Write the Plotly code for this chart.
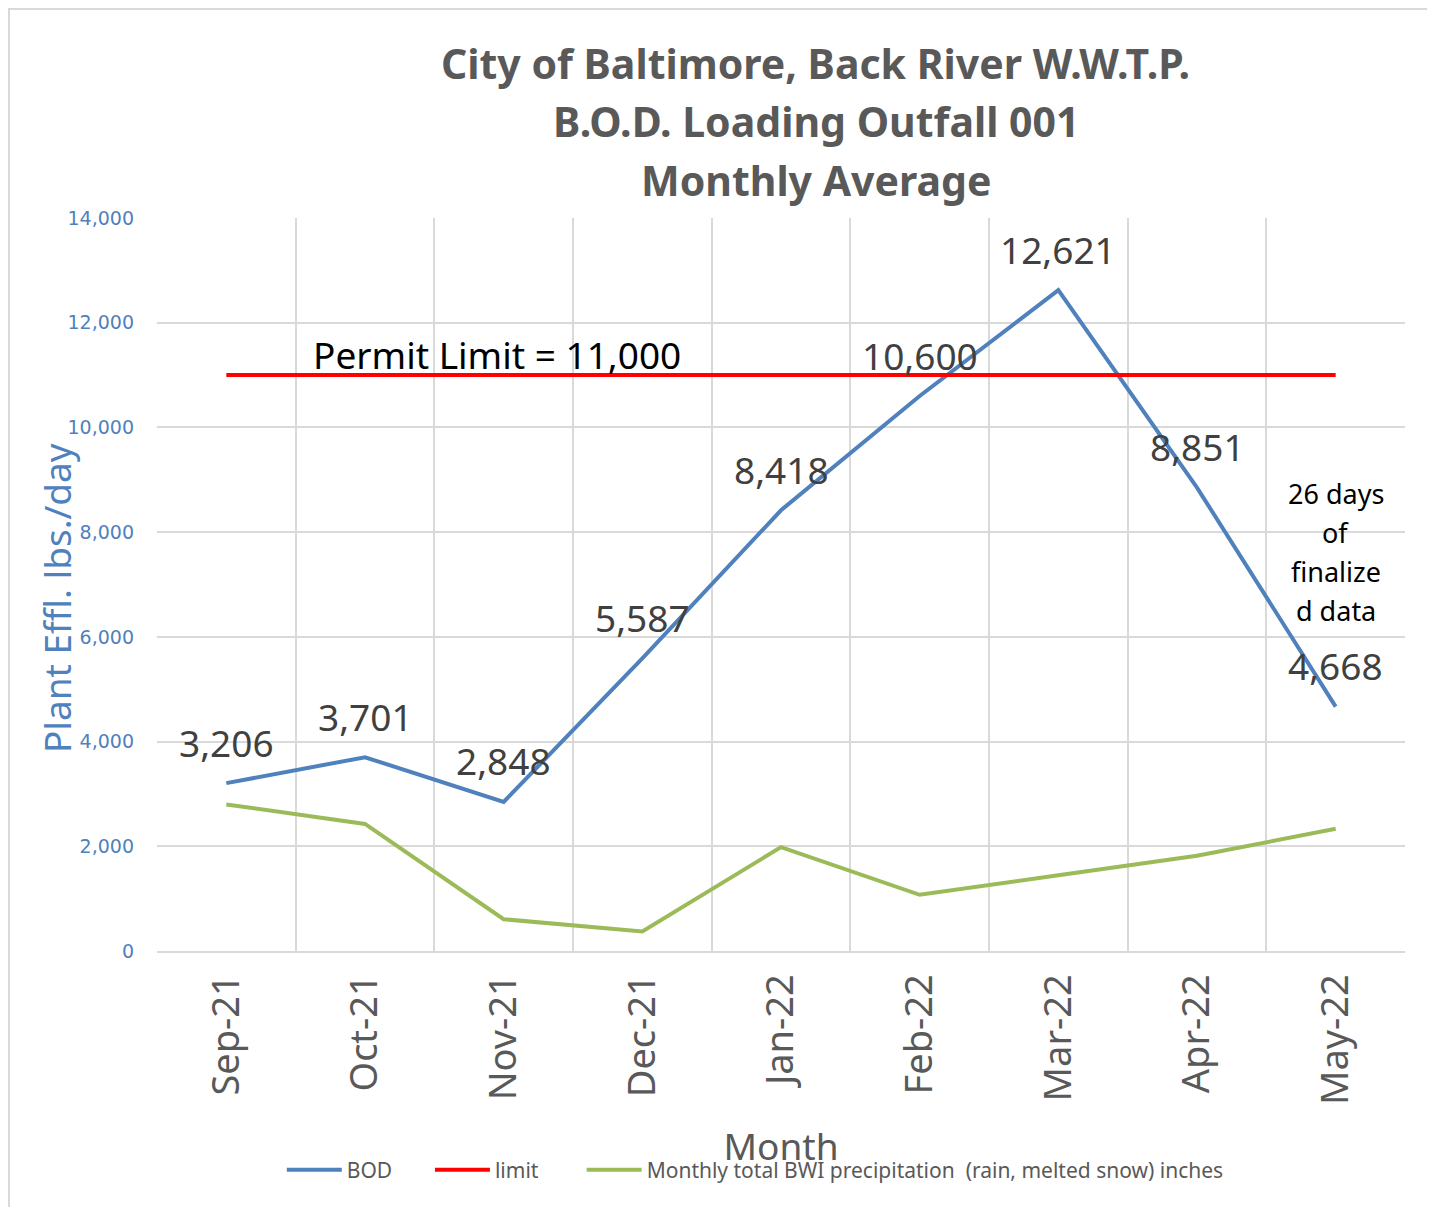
import plotly.graph_objects as go

months = ["Sep-21", "Oct-21", "Nov-21", "Dec-21", "Jan-22", "Feb-22", "Mar-22", "Apr-22", "May-22"]
bod = [3206, 3701, 2848, 5587, 8418, 10600, 12621, 8851, 4668]
limit = [11000] * len(months)
precip = [6.0, 5.2, 1.3, 0.8, 4.25, 2.3, 3.1, 3.9, 5.0]

title_lines = ["City of Baltimore, Back River W.W.T.P.", "B.O.D. Loading Outfall 001", "Monthly Average"]
note_lines = ["26 days", "of", "finalize", "d data"]

BLUE = "#4F81BD"
GREEN = "#9BBB59"
GRAY = "#595959"
GRID = "#D9D9D9"
FONT = "Noto Sans"
NBSP = "\u00a0"  # used to widen the gap between legend entries

x = list(range(len(months)))

fig = go.Figure()
fig.add_trace(go.Scatter(x=x, y=bod, name="BOD" + NBSP * 6, mode="lines",
                         line=dict(color=BLUE, width=4)))
fig.add_trace(go.Scatter(x=x, y=limit, name="limit" + NBSP * 7, mode="lines",
                         line=dict(color="#FF0000", width=4)))
fig.add_trace(go.Scatter(x=x, y=precip, name="Monthly total BWI precipitation  (rain, melted snow) inches",
                         mode="lines", line=dict(color=GREEN, width=4), yaxis="y2"))

# value labels above the BOD points
for i, v in enumerate(bod):
    fig.add_annotation(x=i, y=v, text=f"{v:,}", showarrow=False, yshift=41,
                       font=dict(family=FONT, size=37, color="#404040"))

fig.add_annotation(x=1.95, y=11400, text="Permit Limit = 11,000", showarrow=False,
                   font=dict(family=FONT, size=37, color="black"))

# note next to the last month, one line at a time
for k, line in enumerate(note_lines):
    fig.add_annotation(x=8, y=7620, text=line, showarrow=False, yshift=59 - 39.3 * k,
                       font=dict(family=FONT, size=27, color="black"))

# title, one line at a time
for k, line in enumerate(title_lines):
    fig.add_annotation(xref="paper", yref="paper", x=0.528, y=1.2115 - 0.0797 * k,
                       yanchor="middle", text=f"<b>{line}</b>", showarrow=False,
                       font=dict(family=FONT, size=41, color=GRAY))

fig.add_annotation(xref="paper", yref="paper", x=-0.0801, y=0.4816, textangle=-90,
                   xanchor="center", yanchor="middle",
                   text="Plant Effl. lbs./day", showarrow=False,
                   font=dict(family=FONT, size=37, color=BLUE))

# chart area border
fig.add_shape(type="rect", xref="paper", yref="paper",
              x0=-0.1186, x1=1.1, y0=-0.5, y1=1.2851,
              line=dict(color=GRID, width=2), layer="below")

fig.update_layout(
    width=1435, height=1207,
    margin=dict(l=149, r=38, t=210, b=264, autoexpand=False),
    paper_bgcolor="white", plot_bgcolor="white",
    font=dict(family=FONT, color=GRAY),
    xaxis=dict(
        range=[-0.5, 8.5], tickvals=x, ticktext=months, tickangle=-90, automargin=False,
        showgrid=False, zeroline=False, showline=True, linecolor=GRID, linewidth=2,
        tickfont=dict(family=FONT, size=38, color=GRAY), ticks="", ticklabelstandoff=6,
        minor=dict(tickvals=[i - 0.5 for i in range(len(months) + 1)], showgrid=True,
                   gridcolor=GRID, gridwidth=2, ticks=""),
        title=dict(text="Month", font=dict(family=FONT, size=37, color=GRAY), standoff=30),
    ),
    yaxis=dict(
        range=[0, 14000], dtick=2000, tickformat=",d", automargin=False,
        showgrid=True, gridcolor=GRID, gridwidth=2, zeroline=False,
        tickfont=dict(family="DejaVu Sans", size=19, color=BLUE), ticks="",
        ticklabelstandoff=22,
    ),
    yaxis2=dict(
        range=[0, 30], dtick=5, overlaying="y", side="right", showgrid=False, zeroline=False,
        automargin=False,
        tickfont=dict(family="DejaVu Sans", size=19, color=GRAY), ticks="",
        ticklabelstandoff=22,
    ),
    legend=dict(orientation="h", x=0.1, xanchor="left", y=-0.2988, yanchor="middle",
                font=dict(family=FONT, size=21, color=GRAY), itemwidth=55,
                bgcolor="rgba(0,0,0,0)"),
    showlegend=True,
)

fig.write_html("out.html")
